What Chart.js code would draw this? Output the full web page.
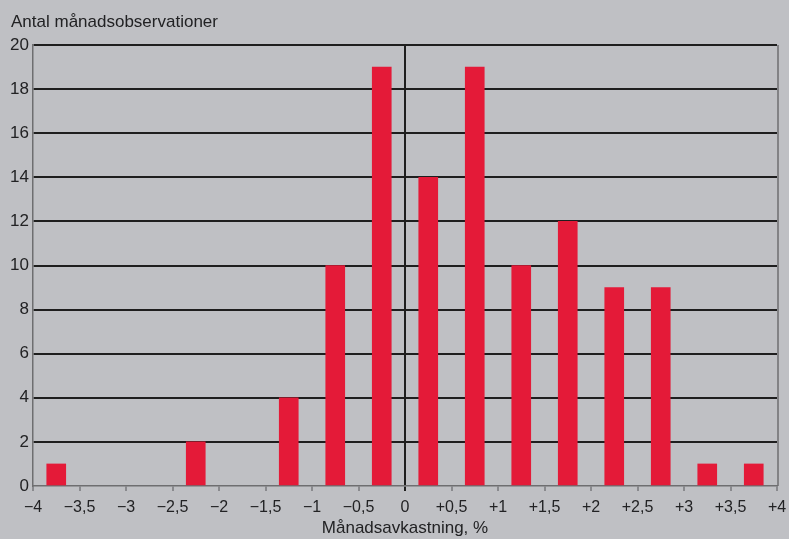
<!DOCTYPE html>
<html>
<head>
<meta charset="utf-8">
<script src="https://cdn.jsdelivr.net/npm/chart.js@4/dist/chart.umd.min.js"></script>
<style>
  html, body { margin: 0; padding: 0; background: #bfc0c4; }
  #wrap { width: 789px; height: 539px; }
</style>
</head>
<body>
<div id="wrap"><canvas id="chart" width="789" height="539"></canvas></div>
<script>
// Data
const binCenters = [-3.75, -2.25, -1.25, -0.75, -0.25, 0.25, 0.75, 1.25, 1.75, 2.25, 2.75, 3.25, 3.75];
const counts = [1, 2, 4, 10, 19, 14, 19, 10, 12, 9, 9, 1, 1];
const xTickLabels = ["\u22124", "\u22123,5", "\u22123", "\u22122,5", "\u22122", "\u22121,5", "\u22121", "\u22120,5", "0",
  "+0,5", "+1", "+1,5", "+2", "+2,5", "+3", "+3,5", "+4"];
const yTitle = "Antal månadsobservationer";
const xTitle = "Månadsavkastning, %";

const FONT = "'Liberation Sans', Arial, Helvetica, sans-serif";
const TEXT = "#222224";

// Extra drawing: y title and the right frame line
const decor = {
  id: "decor",
  afterDraw(chart) {
    const { ctx, chartArea } = chart;
    ctx.save();
    ctx.fillStyle = TEXT;
    ctx.font = "17px " + FONT;
    ctx.textBaseline = "middle";
    ctx.fillText(yTitle, 11, 22);
    ctx.strokeStyle = "#6e6e70";
    ctx.lineWidth = 1.5;
    ctx.beginPath();
    ctx.moveTo(chartArea.right + 1, chartArea.top);
    ctx.lineTo(chartArea.right + 1, chartArea.bottom);
    ctx.stroke();
    ctx.restore();
  }
};

new Chart(document.getElementById("chart"), {
  type: "bar",
  data: {
    datasets: [{
      data: binCenters.map((x, i) => ({ x: x, y: counts[i] })),
      backgroundColor: "#e41a38",
      borderWidth: 0,
      barThickness: 19
    }]
  },
  options: {
    responsive: false,
    animation: false,
    layout: { padding: { top: 45, right: 12, left: 0, bottom: 0 } },
    plugins: { legend: { display: false }, tooltip: { enabled: false } },
    scales: {
      x: {
        type: "linear",
        min: -4,
        max: 4,
        offset: false,
        afterFit: (s) => { s.height = 53; s.paddingRight = 0; s.paddingLeft = 0; },
        ticks: {
          stepSize: 0.5,
          autoSkip: false,
          maxRotation: 0,
          padding: 7,
          color: TEXT,
          font: { family: FONT, size: 16 },
          callback: (v, i) => xTickLabels[i]
        },
        grid: {
          offset: false,
          color: (c) => c.tick && c.tick.value === 0 ? "#1e1e1e" : "rgba(0,0,0,0)",
          lineWidth: 2,
          tickColor: (c) => c.tick && c.tick.value === 0 ? "#1e1e1e" : "#555558",
          tickWidth: (c) => c.tick && c.tick.value === 0 ? 2 : 1,
          tickLength: 5
        },
        border: { color: "#6e6e70", width: 1.5 },
        title: {
          display: true,
          text: xTitle,
          color: TEXT,
          font: { family: FONT, size: 17 },
          padding: { top: 0, bottom: 0 }
        }
      },
      y: {
        min: 0,
        max: 20,
        afterFit: (s) => { s.width = 33; },
        ticks: {
          stepSize: 2,
          padding: 4,
          color: TEXT,
          font: { family: FONT, size: 17 }
        },
        grid: {
          color: (c) => c.tick && c.tick.value === 0 ? "rgba(0,0,0,0)" : "#1e1e1e",
          lineWidth: 2,
          drawTicks: false
        },
        border: { color: "#6e6e70", width: 1.5 }
      }
    }
  },
  plugins: [decor]
});
</script>
</body>
</html>
